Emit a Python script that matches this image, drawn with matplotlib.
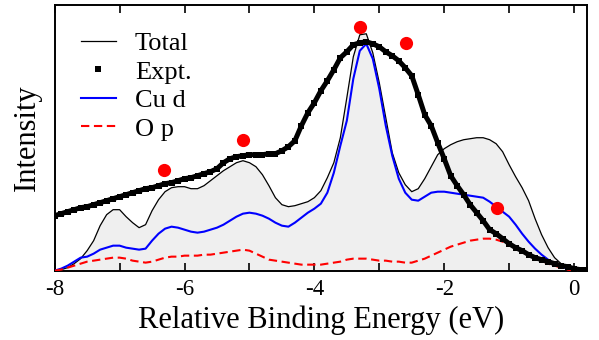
import numpy as np
import matplotlib
matplotlib.use('Agg')
import matplotlib.pyplot as plt

plt.rcParams['font.family'] = ['Liberation Serif', 'DejaVu Serif']

# energy grid (eV), 0.1 eV steps from -8.0 to 0.2
energy = np.round(np.arange(-80, 3) / 10.0, 1)

# calculated total DOS (arb. units)
total = np.array([
    0, 1, 3, 7, 12, 20, 30, 45, 56, 61,
    61, 54, 48, 43, 46, 60, 71, 79, 83, 84,
    84, 82, 82, 85, 90, 95, 100, 104, 108, 110,
    108, 104, 96, 85, 73, 66, 64, 65, 67, 69,
    73, 80, 93, 108, 133, 173, 214, 236, 237, 218,
    188, 153, 118, 98, 86, 79, 82, 92, 104, 116,
    122, 126, 129, 131, 132, 133, 133, 131, 127, 119,
    106, 94, 83, 70, 52, 36, 23, 13, 7, 4,
    2, 1, 0]) / 100.0

# Cu d partial
cu_d = np.array([
    0, 2, 5, 9, 13, 14, 17, 21, 23, 25,
    25, 23, 22, 21, 22, 30, 37, 42, 44, 43,
    41, 39, 38, 39, 41, 43, 46, 50, 54, 57,
    58, 57, 55, 52, 48, 45, 44, 48, 53, 58,
    62, 67, 78, 98, 125, 150, 192, 220, 227, 212,
    182, 145, 115, 92, 78, 71, 70, 74, 78, 79,
    79, 78, 77, 76, 75, 74, 73, 69, 64, 59,
    54, 46, 37, 29, 22, 16, 11, 7, 4, 2,
    1, 0, 0]) / 100.0

# O p partial
o_p = np.array([
    0, 1, 3, 5, 7, 9, 10, 11, 12, 13,
    13, 12, 10, 9, 8, 9, 11, 13, 14, 14,
    15, 15, 15, 16, 16, 17, 18, 19, 20, 21,
    20, 17, 14, 11, 10, 9, 8, 7, 6, 6,
    6, 6, 7, 8, 9, 11, 12, 12, 12, 11,
    10, 10, 9, 9, 8, 8, 10, 12, 15, 18,
    21, 24, 26, 28, 30, 31, 32, 32, 31, 29,
    26, 23, 20, 16, 13, 10, 7, 5, 3, 1,
    0, 0, 0]) / 100.0

# experiment
expt = np.array([
    55, 57, 59, 61, 63, 64, 66, 68, 70, 72,
    74, 76, 78, 80, 82, 83, 85, 87, 88, 90,
    92, 93, 95, 97, 99, 102, 108, 112, 114, 115,
    116, 116, 116, 117, 117, 120, 124, 130, 145, 158,
    168, 180, 190, 201, 213, 219, 226, 228, 229, 227,
    224, 219, 215, 210, 203, 195, 176, 156, 145, 128,
    112, 95, 85, 76, 66, 58, 50, 41, 37, 32,
    27, 23, 20, 16, 13, 11, 9, 7, 5, 4,
    2, 1, 1]) / 100.0

# peak markers
peak_x = [-6.31, -5.10, -3.30, -2.59, -1.18]
peak_y = [1.01, 1.31, 2.44, 2.28, 0.63]

fig = plt.figure(figsize=(5.99, 3.40), dpi=100)
ax = fig.add_axes([0.0913, 0.204, 0.8887, 0.781])

ax.fill_between(energy, 0, total, facecolor='#efefef', edgecolor='none', zorder=1)
ax.plot(energy, total, color='black', lw=0.9, label='Total', zorder=3)
ax.plot(energy, expt, '-', color='black', lw=3.6, solid_capstyle='butt', zorder=4)
ax.plot(energy, expt, 's', color='black', ms=4.6, mew=0, label='Expt.', zorder=4)
ax.plot(energy, cu_d, color='#0000ff', lw=1.5, label='Cu d', zorder=3)
ax.plot(energy, o_p, color='#ff0000', lw=1.5, ls=(0, (4, 2.2)), label='O p', zorder=3)
ax.plot(peak_x, peak_y, 'o', color='#ff0000', ms=9.5, mew=0, zorder=5)

ax.set_xlim(-8, 0.2)
ax.set_ylim(0, 2.657)
ax.set_xticks([-8, -6, -4, -2, 0])
ax.set_xticklabels(['-8', '-6', '-4', '-2', '0'])
ax.set_xticks([-7, -5, -3, -1], minor=True)
ax.set_yticks([])
ax.tick_params(axis='x', which='both', direction='in', top=True, length=6, width=1.2,
               labelsize=16.5, pad=6)
for s in ax.spines.values():
    s.set_linewidth(1.4)

ax.set_xlabel('Relative Binding Energy (eV)', fontsize=22, labelpad=4)
ax.set_ylabel('Intensity', fontsize=22, labelpad=9)

ax.legend(loc='upper left', bbox_to_anchor=(0.029, 0.94), frameon=False, fontsize=19,
          handlelength=1.35, handletextpad=0.7, labelspacing=0.19, borderaxespad=0)

fig.savefig('out.png', dpi=100)
